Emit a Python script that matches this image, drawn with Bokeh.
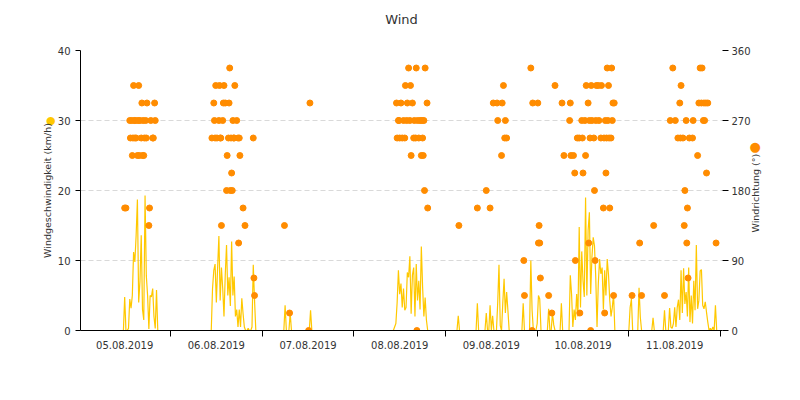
import numpy as np
import pandas as pd
from bokeh.plotting import figure
from bokeh.models import Range1d, LinearAxis, FixedTicker, DatetimeTickFormatter
from bokeh.embed import file_html
from bokeh.resources import INLINE

# ---------------- data ----------------
title_text = "Wind"
speed_label = "Windgeschwindigkeit (km/h)"
dir_label = "Windrichtung (°)"
day_label_times = ["2019-08-05 12:00", "2019-08-06 12:00", "2019-08-07 12:00", "2019-08-08 12:00",
                   "2019-08-09 12:00", "2019-08-10 12:00", "2019-08-11 12:00"]
day_boundaries = ["2019-08-06 00:00", "2019-08-07 00:00", "2019-08-08 00:00", "2019-08-09 00:00",
                  "2019-08-10 00:00", "2019-08-11 00:00", "2019-08-12 00:00"]
speed_ticks = [0, 10, 20, 30, 40]
dir_ticks = [0, 90, 180, 270, 360]
x_start = "2019-08-05 00:26"
x_end = "2019-08-12 00:31"

# wind speed (km/h): runs of samples every 20 minutes, starting at the given time
sample_minutes = 20
speed_run_starts = [
    "2019-08-05 12:00", "2019-08-06 11:00", "2019-08-07 06:00", "2019-08-07 07:20", "2019-08-07 12:40",
    "2019-08-08 10:40", "2019-08-09 03:20", "2019-08-09 08:20", "2019-08-09 10:40", "2019-08-09 11:40",
    "2019-08-09 13:40", "2019-08-09 20:20", "2019-08-09 22:20", "2019-08-10 00:00", "2019-08-10 03:00",
    "2019-08-10 06:20", "2019-08-10 08:40", "2019-08-11 00:20", "2019-08-11 02:40", "2019-08-11 06:20",
    "2019-08-11 09:20", "2019-08-11 10:40",
]
speed_run_values = [
    [4.8, 0, 0, 0.3, 4.5, 3.2, 5, 11.2, 9.8, 13.6, 18.7, 4, 7, 13.6, 3, 1.5, 19.3, 7.8, 5, 0.2, 5, 4.8, 6, 2, 0.3, 5.8, 0],
    [6.0, 8.6, 9.5, 4, 9, 13.5, 4.3, 9, 6, 2, 8, 12.2, 5, 7.6, 3.5, 12.7, 5, 7.7, 2, 3, 0.5, 3, 0.5, 4.6, 2.4, 0.5,
     0, 0, 0.3, 0, 0, 0.5, 9.4, 4.3, 0],
    [3.6],
    [2.5],
    [2.9],
    [0.5, 1, 4, 8.6, 5.2, 6.7, 3.3, 6, 2.9, 3.3, 8.3, 7.6, 10.6, 2.4, 7.9, 9, 2, 9.5, 4.3, 7.1, 3, 12, 6.2, 2, 4.7, 1.5, 0],
    [2.1],
    [3.9],
    [2.5],
    [3.6, 0, 2.1],
    [4, 9.4, 0.7, 0, 4, 7.4, 2.5, 5.5, 2.9],
    [3.9],
    [10, 2.9],
    [1.0, 5.0, 4.5],
    [3.1, 0, 0, 2.5, 0.8],
    [3.9],
    [7.9, 5.2, 0.5, 3, 1.5, 5.2, 2, 14.8, 3.3, 11.3, 7.1, 4.8, 19, 5, 14.3, 16.9, 5.2, 10.5, 13.3, 12.1, 7.6, 0.5,
     6.7, 10.2, 8.1, 9, 3, 8.6, 5, 10.2, 8, 4.3, 2, 3.3, 5.2, 0],
    [3.3, 4.5],
    [6.1, 1.9],
    [1.8],
    [2.9],
    [3.2, 0.5, 0.3, 1, 3.3, 0.5, 3.3, 4.4, 1.5, 8.6, 2.5, 8.9, 3.8, 5.5, 2, 9, 1.2, 5, 1, 7.1, 2.9, 12.2, 3.1, 4.3,
     8.5, 8.7, 3.6, 3.1, 4.1, 2.6, 1.2, 0, 0.3, 0, 0.5, 0, 3.6, 0],
]

# wind direction (degrees)
dir_times = [
    # 05.08
    "2019-08-05 12:00", "2019-08-05 12:20", "2019-08-05 13:20", "2019-08-05 13:30", "2019-08-05 13:50",
    "2019-08-05 14:00", "2019-08-05 14:10", "2019-08-05 14:20", "2019-08-05 14:30", "2019-08-05 14:40",
    "2019-08-05 14:50", "2019-08-05 15:00", "2019-08-05 15:20", "2019-08-05 15:30", "2019-08-05 15:40",
    "2019-08-05 15:50", "2019-08-05 16:00", "2019-08-05 16:20", "2019-08-05 16:30", "2019-08-05 16:40",
    "2019-08-05 16:50", "2019-08-05 17:00", "2019-08-05 17:10", "2019-08-05 17:30", "2019-08-05 17:40",
    "2019-08-05 17:50", "2019-08-05 18:20", "2019-08-05 18:30", "2019-08-05 18:50", "2019-08-05 19:20",
    "2019-08-05 19:30", "2019-08-05 19:50", "2019-08-05 20:00",
    # 06.08
    "2019-08-06 10:50", "2019-08-06 11:20", "2019-08-06 11:30", "2019-08-06 11:40", "2019-08-06 11:50",
    "2019-08-06 12:10", "2019-08-06 12:40", "2019-08-06 12:50", "2019-08-06 13:00", "2019-08-06 13:10",
    "2019-08-06 13:20", "2019-08-06 13:40", "2019-08-06 13:50", "2019-08-06 14:00", "2019-08-06 14:20",
    "2019-08-06 14:40", "2019-08-06 14:50", "2019-08-06 15:10", "2019-08-06 15:20", "2019-08-06 15:30",
    "2019-08-06 15:40", "2019-08-06 15:50", "2019-08-06 16:00", "2019-08-06 16:10", "2019-08-06 16:20",
    "2019-08-06 16:30", "2019-08-06 16:40", "2019-08-06 16:50", "2019-08-06 17:20", "2019-08-06 17:40",
    "2019-08-06 17:50", "2019-08-06 18:00", "2019-08-06 18:10", "2019-08-06 19:00", "2019-08-06 19:30",
    "2019-08-06 21:40", "2019-08-06 21:50", "2019-08-06 22:00",
    # 07.08
    "2019-08-07 05:50", "2019-08-07 07:10", "2019-08-07 12:10", "2019-08-07 12:30",
    # 08.08
    "2019-08-08 11:10", "2019-08-08 11:20", "2019-08-08 11:40", "2019-08-08 11:50", "2019-08-08 12:00",
    "2019-08-08 12:20", "2019-08-08 12:40", "2019-08-08 13:00", "2019-08-08 13:20", "2019-08-08 13:30",
    "2019-08-08 13:50", "2019-08-08 14:00", "2019-08-08 14:20", "2019-08-08 14:40", "2019-08-08 14:50",
    "2019-08-08 15:00", "2019-08-08 15:20", "2019-08-08 15:40", "2019-08-08 15:50", "2019-08-08 16:10",
    "2019-08-08 16:20", "2019-08-08 16:30", "2019-08-08 16:40", "2019-08-08 17:00", "2019-08-08 17:20",
    "2019-08-08 17:40", "2019-08-08 17:50", "2019-08-08 18:00", "2019-08-08 18:10", "2019-08-08 18:20",
    "2019-08-08 18:30", "2019-08-08 18:40", "2019-08-08 19:10", "2019-08-08 19:20",
    # 09.08
    "2019-08-09 03:30", "2019-08-09 08:20", "2019-08-09 10:40", "2019-08-09 11:40", "2019-08-09 12:30",
    "2019-08-09 13:30", "2019-08-09 13:40", "2019-08-09 14:40", "2019-08-09 14:50", "2019-08-09 15:10",
    "2019-08-09 15:30", "2019-08-09 15:40", "2019-08-09 16:00", "2019-08-09 20:30", "2019-08-09 20:40",
    "2019-08-09 22:20", "2019-08-09 22:40", "2019-08-09 22:50",
    # 10.08
    "2019-08-10 00:10", "2019-08-10 00:20", "2019-08-10 00:30", "2019-08-10 00:40", "2019-08-10 00:50",
    "2019-08-10 03:00", "2019-08-10 03:50", "2019-08-10 04:40", "2019-08-10 06:30", "2019-08-10 07:00",
    "2019-08-10 08:30", "2019-08-10 08:40", "2019-08-10 08:50", "2019-08-10 09:30", "2019-08-10 09:50",
    "2019-08-10 10:00", "2019-08-10 10:30", "2019-08-10 11:00", "2019-08-10 11:10", "2019-08-10 11:40",
    "2019-08-10 11:50", "2019-08-10 12:00", "2019-08-10 12:30", "2019-08-10 12:40", "2019-08-10 12:50",
    "2019-08-10 13:20", "2019-08-10 13:30", "2019-08-10 13:40", "2019-08-10 13:50", "2019-08-10 14:00",
    "2019-08-10 14:10", "2019-08-10 14:20", "2019-08-10 14:50", "2019-08-10 15:00", "2019-08-10 15:10",
    "2019-08-10 15:20", "2019-08-10 15:30", "2019-08-10 16:00", "2019-08-10 16:10", "2019-08-10 16:40",
    "2019-08-10 16:50", "2019-08-10 17:20", "2019-08-10 17:30", "2019-08-10 17:40", "2019-08-10 17:50",
    "2019-08-10 18:00", "2019-08-10 18:10", "2019-08-10 18:20", "2019-08-10 18:30", "2019-08-10 18:40",
    "2019-08-10 18:50", "2019-08-10 19:00", "2019-08-10 19:20", "2019-08-10 19:30", "2019-08-10 19:40",
    "2019-08-10 19:50", "2019-08-10 20:00", "2019-08-10 20:10",
    # 11.08
    "2019-08-11 00:50", "2019-08-11 02:50", "2019-08-11 03:20", "2019-08-11 06:30", "2019-08-11 09:20",
    "2019-08-11 10:50", "2019-08-11 11:30", "2019-08-11 12:10", "2019-08-11 12:50", "2019-08-11 13:20",
    "2019-08-11 13:30", "2019-08-11 13:40", "2019-08-11 14:10", "2019-08-11 14:30", "2019-08-11 14:40",
    "2019-08-11 15:00", "2019-08-11 15:10", "2019-08-11 15:20", "2019-08-11 15:30", "2019-08-11 15:50",
    "2019-08-11 16:40", "2019-08-11 16:50", "2019-08-11 18:00", "2019-08-11 18:20", "2019-08-11 18:40",
    "2019-08-11 19:00", "2019-08-11 19:10", "2019-08-11 19:30", "2019-08-11 19:40", "2019-08-11 19:50",
    "2019-08-11 20:10", "2019-08-11 20:20", "2019-08-11 20:40", "2019-08-11 22:50",
]
dir_degrees = [
    # 05.08
    157.5, 157.5, 270, 247.5, 270, 225, 247.5, 315, 270, 247.5, 270, 247.5, 225, 270, 315, 225, 270, 247.5,
    292.5, 225, 270, 225, 247.5, 270, 247.5, 292.5, 135, 157.5, 270, 247.5, 247.5, 292.5, 270,
    # 06.08
    247.5, 292.5, 270, 247.5, 315, 247.5, 270, 315, 247.5, 247.5, 135, 270, 292.5, 315, 292.5, 180, 225,
    247.5, 292.5, 337.5, 180, 247.5, 202.5, 180, 270, 247.5, 247.5, 315, 270, 247.5, 112.5, 247.5, 225,
    157.5, 135, 247.5, 67.5, 45,
    # 07.08
    135, 22.5, 0, 292.5,
    # 08.08
    292.5, 247.5, 270, 270, 247.5, 292.5, 247.5, 270, 247.5, 315, 270, 292.5, 337.5, 270, 315, 225, 292.5,
    247.5, 270, 247.5, 337.5, 0, 270, 247.5, 270, 225, 270, 247.5, 225, 270, 180, 337.5, 292.5, 157.5,
    # 09.08
    135, 157.5, 180, 157.5, 292.5, 292.5, 270, 225, 292.5, 315, 247.5, 270, 247.5, 90, 45, 337.5, 0, 292.5,
    # 10.08
    292.5, 112.5, 135, 112.5, 67.5, 45, 22.5, 315, 292.5, 225, 270, 292.5, 225, 225, 202.5, 90, 247.5,
    247.5, 22.5, 270, 247.5, 202.5, 270, 225, 315, 292.5, 112.5, 270, 247.5, 0, 315, 270, 247.5, 180, 90,
    270, 315, 315, 270, 247.5, 315, 157.5, 247.5, 22.5, 270, 202.5, 247.5, 337.5, 270, 315, 247.5, 157.5,
    247.5, 337.5, 270, 292.5, 45, 292.5,
    # 11.08
    45, 112.5, 45, 135, 45, 270, 337.5, 270, 247.5, 292.5, 247.5, 315, 247.5, 135, 180, 270, 112.5, 157.5,
    67.5, 247.5, 247.5, 270, 225, 292.5, 337.5, 292.5, 337.5, 270, 292.5, 270, 292.5, 202.5, 292.5, 112.5,
]

# ---------------- build line data (runs separated by gaps) ----------------
step = pd.Timedelta(minutes=sample_minutes)
line_t, line_v = [], []
for start, vals in zip(speed_run_starts, speed_run_values):
    t0 = pd.Timestamp(start)
    line_t.append(t0 - step)
    line_v.append(0.0)
    for k, v in enumerate(vals):
        line_t.append(t0 + k * step)
        line_v.append(float(v))
    line_t.append(t0 + len(vals) * step)
    line_v.append(0.0)
    line_t.append(t0 + (len(vals) + 1) * step)
    line_v.append(np.nan)

dir_t = pd.to_datetime(dir_times)

YELLOW = "#FFC800"
ORANGE = "#FF8C00"
FONT = "DejaVu Sans"
TXT = "#333333"
SPEED_MARK_AT = 30      # vertical place of the series marker beside the left title
DIR_MARK_AT = 237       # vertical place of the series marker beside the right title
DIR_TITLE_AT = 126      # vertical place where the right title starts

def ms(s):
    return pd.Timestamp(s).value // 10**6

p = figure(width=784, height=384, x_axis_type="datetime",
           x_range=Range1d(pd.Timestamp(x_start), pd.Timestamp(x_end)),
           y_range=Range1d(0, 40), output_backend="svg", toolbar_location=None,
           min_border_left=80, min_border_right=62, min_border_top=50, min_border_bottom=54,
           title=title_text)
p.extra_y_ranges = {"dir": Range1d(0, 360)}
p.outline_line_color = None
p.background_fill_color = "white"
p.border_fill_color = "white"

xa = p.below[0]          # the date axis
ya = p.left[0]           # the speed axis

# empty spacer above the frame, so that the title sits higher
spacer = LinearAxis(ticker=FixedTicker(ticks=[]), axis_label=" ")
spacer.axis_line_color = None
spacer.major_tick_line_color = None
spacer.minor_tick_line_color = None
spacer.major_label_text_color = None
spacer.major_tick_out = 0
spacer.major_tick_in = 0
spacer.major_label_standoff = 0
spacer.axis_label_text_font = FONT
spacer.axis_label_text_font_size = "10px"
spacer.axis_label_standoff = 10
p.add_layout(spacer, "above")

p.title.align = "center"
p.title.vertical_align = "bottom"
p.title.text_font = FONT
p.title.text_font_size = "13px"
p.title.text_font_style = "normal"
p.title.text_color = TXT
p.title.standoff = 0

# x axis
xa.ticker = FixedTicker(ticks=[ms(t) for t in day_label_times], minor_ticks=[ms(t) for t in day_boundaries])
fmt = "%d.%m.%Y"
xa.formatter = DatetimeTickFormatter(microseconds=fmt, milliseconds=fmt, seconds=fmt, minsec=fmt, minutes=fmt,
                                     hourmin=fmt, hours=fmt, days=fmt, months=fmt, years=fmt)
xa.major_tick_out = 0
xa.major_tick_in = 0
xa.minor_tick_out = 6
xa.minor_tick_in = 0
xa.minor_tick_line_color = "black"
xa.axis_line_color = "black"
xa.major_label_standoff = 4
xa.major_label_text_font = FONT
xa.major_label_text_font_size = "10px"
xa.major_label_text_color = TXT
p.xgrid.visible = False

# left axis (ticks)
ya.ticker = FixedTicker(ticks=speed_ticks)
ya.axis_line_color = "black"
ya.major_tick_out = 5
ya.major_tick_in = 0
ya.major_tick_line_color = "black"
ya.minor_tick_line_color = None
ya.major_label_standoff = 5
ya.major_label_text_font = FONT
ya.major_label_text_font_size = "10px"
ya.major_label_text_color = TXT

# left title with series marker
lt = LinearAxis(ticker=FixedTicker(ticks=[SPEED_MARK_AT]), major_label_overrides={SPEED_MARK_AT: "●"},
                axis_label=speed_label)
lt.axis_line_color = None
lt.major_tick_line_color = None
lt.minor_tick_line_color = None
lt.major_tick_out = 0
lt.major_tick_in = 0
lt.major_label_standoff = -1
lt.major_label_text_font = FONT
lt.major_label_text_font_size = "11px"
lt.major_label_text_color = YELLOW
lt.axis_label_text_font = FONT
lt.axis_label_text_font_size = "9.5px"
lt.axis_label_text_font_style = "normal"
lt.axis_label_text_color = TXT
lt.axis_label_standoff = -10
p.add_layout(lt, "left")

p.ygrid.ticker = FixedTicker(ticks=speed_ticks)
p.ygrid.grid_line_color = "#d9d9d9"
p.ygrid.grid_line_dash = "5 3"

# right axis (ticks)
ra = LinearAxis(y_range_name="dir", ticker=FixedTicker(ticks=dir_ticks))
ra.axis_line_color = None
ra.major_tick_out = 6
ra.major_tick_in = 0
ra.major_tick_line_color = "black"
ra.minor_tick_line_color = None
ra.major_label_standoff = 3
ra.major_label_text_font = FONT
ra.major_label_text_font_size = "10px"
ra.major_label_text_color = TXT
p.add_layout(ra, "right")

# right title, reading bottom to top
rt = LinearAxis(y_range_name="dir", ticker=FixedTicker(ticks=[DIR_TITLE_AT]),
                major_label_overrides={DIR_TITLE_AT: dir_label})
rt.axis_line_color = None
rt.major_tick_line_color = None
rt.minor_tick_line_color = None
rt.major_tick_out = 0
rt.major_tick_in = 0
rt.major_label_orientation = np.pi / 2
rt.major_label_standoff = 2
rt.major_label_text_font = FONT
rt.major_label_text_font_size = "9.5px"
rt.major_label_text_color = TXT
p.add_layout(rt, "right")

# right series marker, pulled back into the title's column
rm = LinearAxis(y_range_name="dir", ticker=FixedTicker(ticks=[DIR_MARK_AT]),
                major_label_overrides={DIR_MARK_AT: "●"})
rm.axis_line_color = None
rm.major_tick_line_color = None
rm.minor_tick_line_color = None
rm.major_tick_out = 0
rm.major_tick_in = 0
rm.major_label_standoff = -20
rm.major_label_text_font = FONT
rm.major_label_text_font_size = "13px"
rm.major_label_text_color = ORANGE
p.add_layout(rm, "right")

# glyphs
p.line(line_t, line_v, line_color=YELLOW, line_width=1.2)
p.scatter(dir_t, dir_degrees, y_range_name="dir", size=6, fill_color=ORANGE, line_color=ORANGE)

open("out.html", "w").write(file_html(p, INLINE))
